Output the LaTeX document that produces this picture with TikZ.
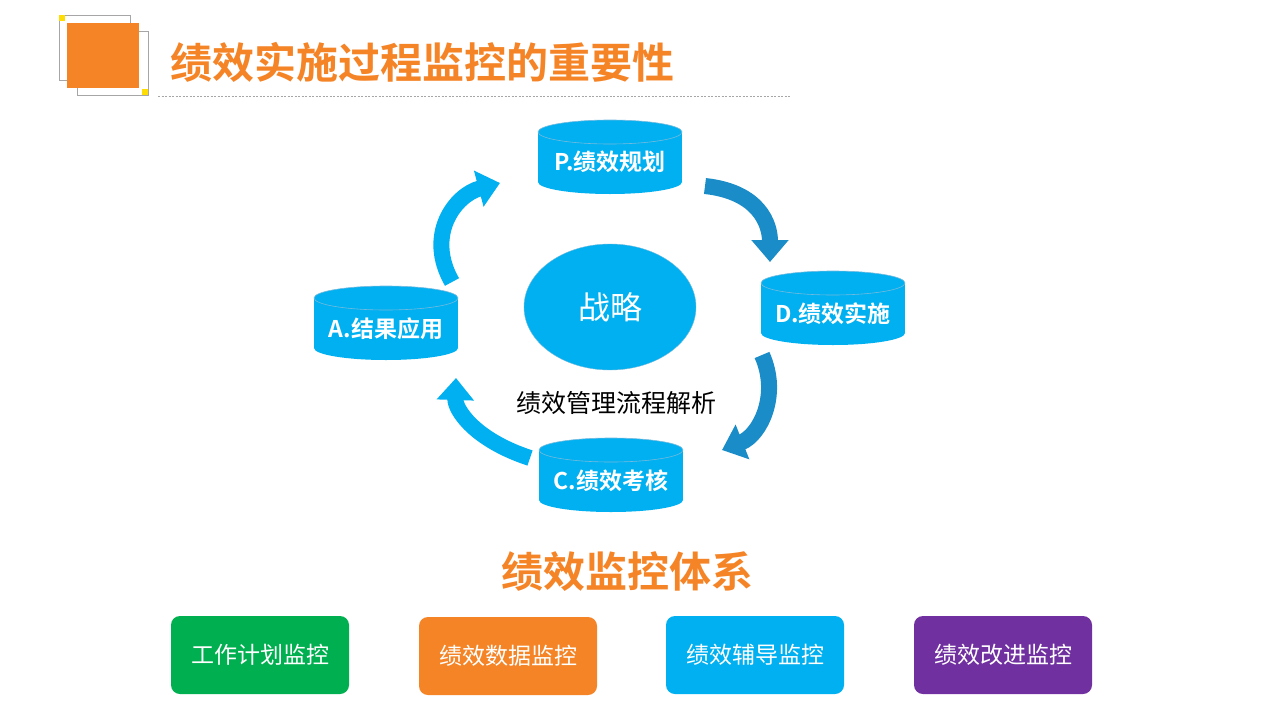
\documentclass[tikz,border=0pt]{standalone}
\usepackage{fontspec}
\setmainfont{Noto Sans CJK SC}[BoldFont={Noto Sans CJK SC Bold}]
\usetikzlibrary{arrows.meta,shapes.geometric}
\definecolor{org}{HTML}{F58426}
\definecolor{cy}{HTML}{00B0F0}
\definecolor{cyd}{HTML}{1A8CC8}
\definecolor{gr}{HTML}{00B050}
\definecolor{pu}{HTML}{7030A0}
\tikzset{
 cyl/.pic={\fill[cy] (-72,-25) rectangle (72,25);
   \fill[cy] (0,25) ellipse[x radius=72,y radius=12];
   \fill[cy] (0,-25) ellipse[x radius=72,y radius=12];
   \draw[cyd!60,line width=0.6pt] (0,-25) ellipse[x radius=72,y radius=12];},
 ctext/.style={text=white,font=\bfseries\fontsize{23}{27}\selectfont},
 carr/.style={line width=16pt,cy,-{Triangle[length=22pt,width=36pt]}},
 box/.style={rounded corners=9pt,minimum width=178pt,minimum height=78pt,text=white,font=\fontsize{23}{27}\selectfont,inner sep=0},
}
\begin{document}
\begin{tikzpicture}[x=1pt,y=-1pt]
\useasboundingbox[fill=white] (0,0) rectangle (1280,720);
% icon
\draw[gray!70,line width=1pt] (59,15) rectangle (130,80);
\draw[gray!70,line width=1pt] (77,31) rectangle (148,95);
\fill[org] (67,23) rectangle (139,88);
\fill[yellow!80!orange] (59,15) rectangle (65,21);
\fill[yellow!80!orange] (142,89) rectangle (148,95);
\node[anchor=west,text=org,font=\bfseries\fontsize{42}{48}\selectfont,inner sep=0] (title) at (170,62) {绩效实施过程监控的重要性};
\draw[gray!70,dashed,dash pattern=on 2pt off 1.5pt] (158,96) -- (790,96);
% cylinders
\pic at (610,157) {cyl}; \node[ctext] (p) at (610,162) {P.绩效规划};
\pic at (833,308) {cyl}; \node[ctext] (d) at (833,314) {D.绩效实施};
\pic at (386,323) {cyl}; \node[ctext] (a) at (386,329) {A.结果应用};
\pic at (611,475) {cyl}; \node[ctext] (c) at (611,481) {C.绩效考核};
% strategy
\node[ellipse,fill=cy,draw=cyd!60,minimum width=172pt,minimum height=126pt,text=white,font=\fontsize{32}{36}\selectfont] (s) at (610,307) {战略};
\node[font=\fontsize{25}{29}\selectfont] (lbl) at (616,403) {绩效管理流程解析};
% arrows
\draw[carr] (452,282) .. controls (425,235) and (455,195) .. (500,183);
\draw[carr,cyd] (705,186) .. controls (760,192) and (770,225) .. (770,262);
\draw[carr,cyd] (762,355) .. controls (780,395) and (760,435) .. (722,450);
\draw[carr] (530,458) .. controls (475,440) and (455,410) .. (456,378);
% bottom
\node[text=org,font=\bfseries\fontsize{42}{48}\selectfont] (sys) at (627,572) {绩效监控体系};
\node[box,fill=gr] (b1) at (260,655) {工作计划监控};
\node[box,fill=org] (b2) at (508,656) {绩效数据监控};
\node[box,fill=cy] (b3) at (755,655) {绩效辅导监控};
\node[box,fill=pu] (b4) at (1003,655) {绩效改进监控};
\end{tikzpicture}
\end{document}
